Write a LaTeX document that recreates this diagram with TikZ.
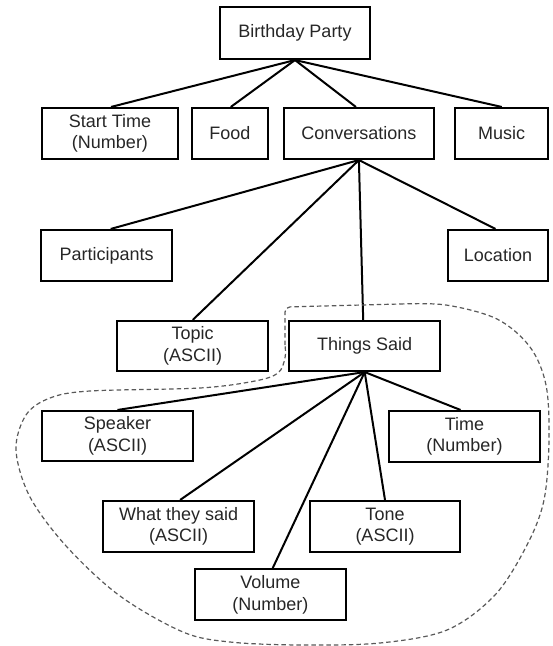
\documentclass[tikz,border=0pt]{standalone}
\usepackage{fontspec}
\setmainfont{Liberation Sans}
\begin{document}
\begin{tikzpicture}[x=1pt,y=-1pt,
  box/.style={draw=black,line width=2.1pt,rectangle,minimum height=51pt,inner sep=0pt,align=center,
    text=black!85,font=\fontsize{18}{21.5}\selectfont},
  link/.style={draw=black,line width=2pt},
  grpline/.style={draw=black!65,line width=1.2pt,dash pattern=on 4.5pt off 3pt}]
\useasboundingbox (0,0) rectangle (553,646);
% nodes
\node[box,minimum width=150.6pt,minimum height=52pt] (bp) at (295,33) {Birthday Party};
\node[box,minimum width=136.5pt] (st) at (110,133.5) {Start Time\\(Number)};
\node[box,minimum width=76.5pt] (food) at (229.8,133.5) {Food};
\node[box,minimum width=150pt] (conv) at (358.9,133.5) {Conversations};
\node[box,minimum width=93.4pt] (music) at (501.7,133.5) {Music};
\node[box,minimum width=131pt] (part) at (106.7,255.5) {Participants};
\node[box,minimum width=100.5pt] (loc) at (498,255.5) {Location};
\node[box,minimum width=150.6pt,minimum height=50pt] (topic) at (192.7,346) {Topic\\(ASCII)};
\node[box,minimum width=151pt,minimum height=50pt] (ts) at (364.7,346) {Things Said};
\node[box,minimum width=151pt,minimum height=50pt] (speaker) at (117.5,436) {Speaker\\(ASCII)};
\node[box,minimum width=151pt] (time) at (464.5,436.5) {Time\\(Number)};
\node[box,minimum width=150.6pt] (what) at (178.6,526.5) {What they said\\(ASCII)};
\node[box,minimum width=150.5pt] (tone) at (385,526.5) {Tone\\(ASCII)};
\node[box,minimum width=150.7pt] (vol) at (270.3,594.7) {Volume\\(Number)};
% connectors
\draw[link] (bp.south) -- ([xshift=1pt]st.north);
\draw[link] (bp.south) -- ([xshift=1pt]food.north);
\draw[link] (bp.south) -- ([xshift=-3pt]conv.north);
\draw[link] (bp.south) -- (music.north);
\draw[link] (conv.south) -- ([xshift=4pt]part.north);
\draw[link] (conv.south) -- ([xshift=-2.5pt]loc.north);
\draw[link] (conv.south) -- (topic.north);
\draw[link] (conv.south) -- ([xshift=-1.5pt]ts.north);
\draw[link] (ts.south) -- (speaker.north);
\draw[link] (ts.south) -- ([xshift=-4pt]time.north);
\draw[link] (ts.south) -- ([xshift=1.5pt]what.north);
\draw[link] (ts.south) -- (tone.north);
\draw[link] (ts.south) -- ([xshift=2.4pt]vol.north);
% dashed group outline
\draw[grpline,rounded corners=5pt] (285,345) -- (285,307) -- (400,304);
\draw[grpline] plot[smooth,tension=0.55] coordinates {(400,304) (446,305) (497,319) (530,347) (546,385) (549,440) (544,500) (527,545) (495,595) (447,630) (380,643) (300,645) (230,642) (183,632) (120,596) (67,547) (30,497) (16,450) (26,415) (50,398) (90,391) (200,388) (255,381) (278,373) (285,358) (285,345)};
\end{tikzpicture}
\end{document}
